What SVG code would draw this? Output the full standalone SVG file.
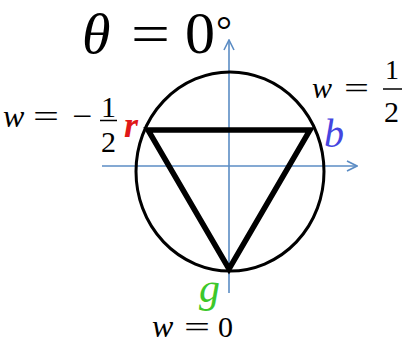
<svg xmlns="http://www.w3.org/2000/svg" width="414" height="347" viewBox="0 0 414 347">
<defs>
<style>
.ax{stroke:#5b8cc4;stroke-width:1.6;fill:none}
</style>
<marker id="ah" viewBox="0 0 12 12" refX="11" refY="6" markerWidth="12" markerHeight="12" markerUnits="userSpaceOnUse" orient="auto">
<path d="M1,1 L11,6 L1,11" fill="none" stroke="#5b8cc4" stroke-width="1.6"/>
</marker>
</defs>
<rect width="414" height="347" fill="#fff"/>
<g id="connectors">
<line class="ax" x1="229" y1="293" x2="229" y2="40" marker-end="url(#ah)"/>
<line class="ax" x1="102" y1="166" x2="357" y2="166" marker-end="url(#ah)"/>
</g>
<g id="circle">
<ellipse cx="230" cy="171.5" rx="94" ry="99.5" fill="none" stroke="#000" stroke-width="3"/>
</g>
<g id="triangle">
<polygon points="148,130 310,130 229,269" fill="none" stroke="#000" stroke-width="5.5" stroke-linejoin="miter"/>
</g>
<g font-family="Liberation Serif, serif" fill="#000">
<g id="title">
<text font-family="Liberation Serif" font-style="italic" x="82" y="53" font-size="58">θ</text>
<text font-family="Liberation Serif" x="131" y="53" font-size="58" textLength="39" lengthAdjust="spacingAndGlyphs">=</text>
<text font-family="Liberation Serif" x="185" y="53" font-size="60">0</text>
<text font-family="Liberation Serif" x="216" y="44" font-size="40">°</text>
</g>
<g id="node-r">
<text font-family="Liberation Serif" font-style="italic" x="3" y="127" font-size="32">w</text>
<text font-family="Liberation Serif" x="33" y="127" font-size="32" textLength="26" lengthAdjust="spacingAndGlyphs">=</text>
<text font-family="Liberation Serif" x="72" y="127" font-size="32" textLength="20" lengthAdjust="spacingAndGlyphs">−</text>
<text font-family="Liberation Serif" x="101" y="117" font-size="30">1</text>
<line x1="100" y1="120.5" x2="117" y2="120.5" stroke="#000" stroke-width="1.5"/>
<text font-family="Liberation Serif" x="101" y="152" font-size="30">2</text>
<text font-family="Liberation Serif" font-style="italic" font-weight="bold" x="124" y="137" font-size="36" fill="#e01818">r</text>
</g>
<g id="node-b">
<text font-family="Liberation Serif" font-style="italic" x="312" y="98" font-size="30">w</text>
<text font-family="Liberation Serif" x="344" y="98" font-size="30" textLength="25" lengthAdjust="spacingAndGlyphs">=</text>
<text font-family="Liberation Serif" x="385" y="79" font-size="28">1</text>
<line x1="383" y1="89" x2="402" y2="89" stroke="#000" stroke-width="1.5"/>
<text font-family="Liberation Serif" x="384" y="122" font-size="30">2</text>
<text font-family="Liberation Serif" font-style="italic" x="324" y="147" font-size="40" fill="#4545e0">b</text>
</g>
<g id="node-g">
<text font-family="Liberation Serif" font-style="italic" x="199" y="302" font-size="42" fill="#3cc82a">g</text>
<text font-family="Liberation Serif" font-style="italic" x="152" y="337" font-size="32">w</text>
<text font-family="Liberation Serif" x="184" y="337" font-size="30" textLength="26" lengthAdjust="spacingAndGlyphs">=</text>
<text font-family="Liberation Serif" x="218" y="337" font-size="30">0</text>
</g>
</g>
</svg>
